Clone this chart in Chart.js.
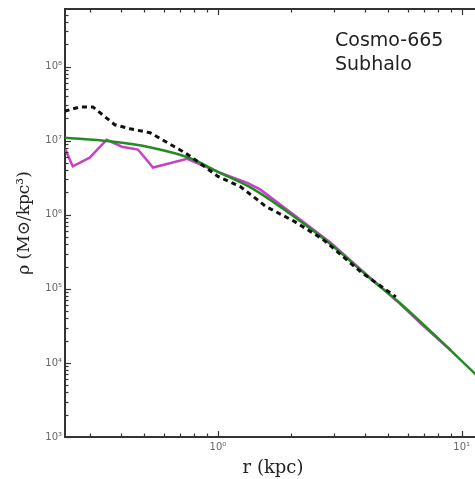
<!DOCTYPE html>
<html>
<head>
<meta charset="utf-8">
<script src="https://cdn.jsdelivr.net/npm/chart.js@4.4.1/dist/chart.umd.min.js"></script>
<style>
  html, body { margin: 0; padding: 0; background: #fff; overflow: hidden; }
</style>
</head>
<body>
<canvas id="profile" width="486" height="479"></canvas>
<script>
// radius (kpc) and density (Msun/kpc^3) for each curve
const fitR   = [0.235, 0.36, 0.53, 0.77, 1.0, 1.36, 2.18, 2.90, 4.24, 5.62, 9.03, 12.1];
const fitRho = [1.10e7, 9.8e6, 8.1e6, 5.8e6, 3.8e6, 2.34e6, 8.2e5, 4.0e5, 1.36e5, 6.3e4, 1.47e4, 5.8e3];

const hydroR   = [0.235, 0.254, 0.298, 0.350, 0.404, 0.470, 0.542, 0.748, 1.0, 1.32, 1.49, 2.18, 2.90, 4.24, 5.62, 6.8, 9.03];
const hydroRho = [8.1e6, 4.5e6, 5.9e6, 1.03e7, 8.3e6, 7.6e6, 4.35e6, 5.7e6, 3.8e6, 2.7e6, 2.2e6, 8.6e5, 4.2e5, 1.38e5, 6.2e4, 3.4e4, 1.47e4];

const dmoR   = [0.235, 0.272, 0.307, 0.337, 0.378, 0.436, 0.527, 0.721, 0.785, 1.0, 1.236, 1.45, 1.57, 2.05, 2.69, 3.86, 5.37];
const dmoRho = [2.5e7, 2.86e7, 2.86e7, 2.23e7, 1.64e7, 1.45e7, 1.28e7, 7.1e6, 5.9e6, 3.3e6, 2.4e6, 1.6e6, 1.3e6, 8.2e5, 4.7e5, 1.69e5, 7.8e4];

const xMajor = [1, 10];
const yMajor = [1e3, 1e4, 1e5, 1e6, 1e7, 1e8];
const labelLines = ['Cosmo-665', 'Subhalo'];

const sup = { '-': '⁻', '0': '⁰', '1': '¹', '2': '²', '3': '³', '4': '⁴', '5': '⁵', '6': '⁶', '7': '⁷', '8': '⁸', '9': '⁹' };
const powLabel = v => '10' + String(Math.round(Math.log10(v))).split('').map(c => sup[c]).join('');
const pts = (r, rho) => r.map((v, i) => ({ x: v, y: rho[i] }));

function minors(lo, hi) {
  const out = [];
  for (let k = -2; k <= 9; k++) {
    for (let m = 2; m <= 9; m++) {
      const v = m * Math.pow(10, k);
      if (v > lo && v < hi) out.push(v);
    }
  }
  return out;
}

// inward ticks on all drawn spines, top spine, and the run label
const frame = {
  id: 'frame',
  afterDraw(chart) {
    const { ctx, chartArea: a, scales: { x, y } } = chart;
    ctx.save();
    ctx.strokeStyle = '#333';
    ctx.lineWidth = 2;
    ctx.beginPath();
    ctx.moveTo(a.left - 1, a.top);
    ctx.lineTo(a.right, a.top);
    ctx.stroke();

    ctx.lineWidth = 1.2;
    const line = (x0, y0, x1, y1) => { ctx.beginPath(); ctx.moveTo(x0, y0); ctx.lineTo(x1, y1); ctx.stroke(); };
    const xTicks = (vals, len) => vals.forEach(v => {
      const px = Math.round(x.getPixelForValue(v)) + 0.5;
      line(px, a.bottom, px, a.bottom - len);
      line(px, a.top, px, a.top + len);
    });
    const yTicks = (vals, len) => vals.forEach(v => {
      const py = Math.round(y.getPixelForValue(v)) + 0.5;
      line(a.left, py, a.left + len, py);
    });
    xTicks(xMajor, 6);
    xTicks(minors(x.min, x.max), 3.5);
    yTicks(yMajor, 6);
    yTicks(minors(y.min, y.max), 3.5);

    ctx.fillStyle = '#222';
    ctx.font = '19px "DejaVu Sans"';
    ctx.textBaseline = 'alphabetic';
    labelLines.forEach((t, i) => ctx.fillText(t, 335, 46 + i * 24));
    ctx.restore();
  }
};

new Chart(document.getElementById('profile'), {
  type: 'line',
  data: {
    datasets: [
      {
        data: pts(dmoR, dmoRho),
        borderColor: '#111',
        borderWidth: 3,
        borderDash: [5, 4],
        pointRadius: 0,
        tension: 0,
        order: 1
      },
      {
        data: pts(fitR, fitRho),
        borderColor: '#228b22',
        borderWidth: 2.5,
        pointRadius: 0,
        cubicInterpolationMode: 'monotone',
        order: 2
      },
      {
        data: pts(hydroR, hydroRho),
        borderColor: '#c83fc8',
        borderWidth: 2.5,
        pointRadius: 0,
        tension: 0,
        order: 3
      }
    ]
  },
  options: {
    responsive: false,
    animation: false,
    devicePixelRatio: 1,
    layout: { padding: { top: 9, right: 5, left: 0, bottom: 0 } },
    plugins: { legend: { display: false }, tooltip: { enabled: false } },
    scales: {
      x: {
        type: 'logarithmic',
        min: 0.236,
        max: 12,
        grid: { display: false, drawTicks: false },
        border: { display: true, color: '#333', width: 2 },
        afterBuildTicks: s => { s.ticks = xMajor.map(v => ({ value: v })); },
        afterFit: s => { s.height = 42; },
        ticks: {
          callback: v => powLabel(v),
          color: '#666',
          font: { family: 'DejaVu Sans', size: 10 },
          padding: 4,
          maxRotation: 0,
          autoSkip: false
        },
        title: {
          display: true,
          text: 'r (kpc)',
          color: '#222',
          font: { family: 'DejaVu Serif', size: 18 },
          padding: { top: 0, bottom: 0 }
        }
      },
      y: {
        type: 'logarithmic',
        min: 1e3,
        max: 6e8,
        grid: { display: false, drawTicks: false },
        border: { display: true, color: '#333', width: 2 },
        afterBuildTicks: s => { s.ticks = yMajor.map(v => ({ value: v })); },
        afterFit: s => { s.width = 65; },
        ticks: {
          callback: v => powLabel(v),
          color: '#666',
          font: { family: 'DejaVu Sans', size: 10 },
          padding: 3,
          autoSkip: false
        },
        title: {
          display: true,
          text: 'ρ (M⊙/kpc³)',
          color: '#222',
          font: { family: 'DejaVu Serif', size: 17 },
          padding: { top: 14, bottom: 0 }
        }
      }
    }
  },
  plugins: [frame]
});
</script>
</body>
</html>
